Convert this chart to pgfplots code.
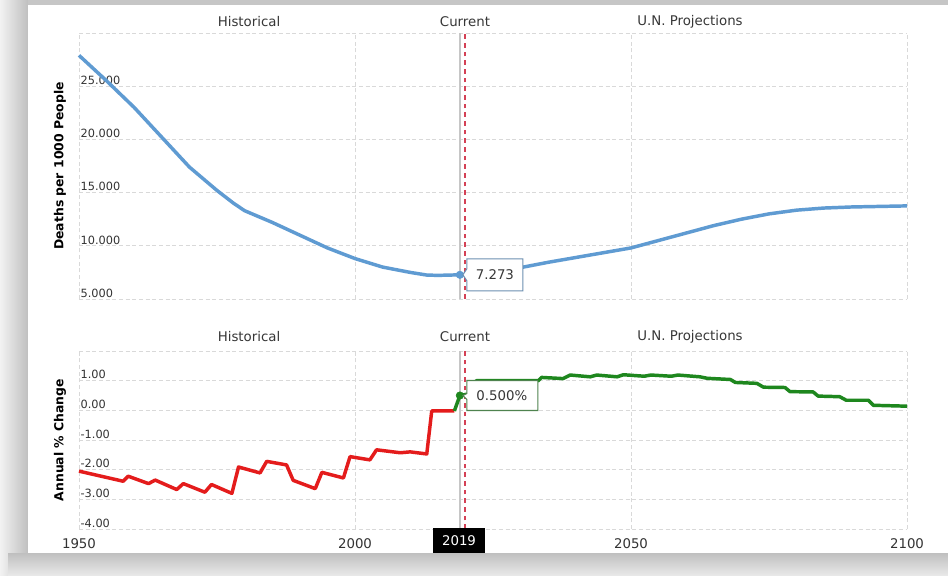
\documentclass[border=0pt]{standalone}
\usepackage{pgfplots}
\pgfplotsset{compat=1.18}
\usepackage{fontspec}
\setmainfont{DejaVu Sans}
\definecolor{lineblue}{RGB}{95,155,210}
\definecolor{linered}{RGB}{228,28,28}
\definecolor{linegreen}{RGB}{30,135,30}
\definecolor{txt}{RGB}{55,55,55}
\definecolor{dashred}{RGB}{212,65,85}
\begin{document}
\begin{tikzpicture}[x=0.75pt,y=0.75pt]
% frame
\fill[white] (0,0) rectangle (948,575);
\shade[left color=gray!10,right color=gray!50] (0,0) rectangle (28,575);
\fill[gray!45] (28,570) rectangle (948,575);
\shade[top color=gray!50,bottom color=gray!18] (8,0) rectangle (948,22);
\fill[white] (28,22) rectangle (948,570);

\pgfplotsset{common/.style={scale only axis, width=621pt, xmin=1950, xmax=2100,
  axis line style={draw=none}, major tick length=0pt,
  xtick={1950,2000,2050,2100}, grid=major,
  grid style={gray!30, dash pattern=on 3pt off 2pt, line width=0.5pt},
  yticklabel style={anchor=south west, font=\fontsize{8.5}{10}\selectfont, text=black!80, inner sep=1pt},
  /pgf/number format/assume math mode=true, /pgf/number format/1000 sep={}, clip=false}}

% ---------- top panel ----------
\begin{axis}[common, at={(59.25pt,207pt)}, height=199.5pt, ymin=5, ymax=30,
  ytick={5,10,15,20,25,30}, yticklabels={5.000,10.000,15.000,20.000,25.000,{}},
  xticklabels={}]
\addplot[gray!45, line width=1pt] coordinates {(2019,5) (2019,30)};
\addplot[draw=dashred, solid, line width=1.4pt, dash pattern=on 3.5pt off 3pt] coordinates {(2020,5) (2020,30)};
\addplot[lineblue, line width=2.6pt, line join=round] coordinates {
(1950,27.9) (1955,25.5) (1960,23.0) (1965,20.2) (1970,17.4) (1975,15.2) (1978,14.0)
(1980,13.3) (1985,12.2) (1990,11.0) (1995,9.8) (2000,8.8) (2005,8.0) (2010,7.5)
(2013,7.25) (2015,7.22) (2019,7.273) (2020,7.3) (2025,7.6) (2030,7.95) (2035,8.45)
(2040,8.9) (2045,9.35) (2050,9.8) (2055,10.5) (2060,11.2) (2065,11.9) (2070,12.5)
(2075,13.0) (2080,13.35) (2085,13.55) (2090,13.65) (2095,13.7) (2100,13.75)};
\addplot[only marks, mark=*, mark size=2.8pt, color=lineblue] coordinates {(2019,7.273)};
\coordinate (P1) at (axis cs:2019,7.273);
\end{axis}
\draw[fill=white, draw=lineblue!60!gray, line width=0.8pt] (P1) ++(3,0) -- ++(4,6) -- ++(0,10) -- ++(56,0) -- ++(0,-32) -- ++(-56,0) -- ++(0,10) -- cycle;
\path (P1) ++(35,0) node[text=txt, font=\fontsize{10}{12}\selectfont] {7.273};

% ---------- bottom panel ----------
\begin{axis}[common, at={(59.25pt,34.5pt)}, height=133.5pt, ymin=-4, ymax=2,
  ytick={-4,-3,-2,-1,0,1,2}, yticklabels={-4.00,-3.00,-2.00,-1.00,0.00,1.00,{}},
  xticklabel style={font=\fontsize{10}{12}\selectfont, text=black!80, yshift=-3.5pt}]
\addplot[gray!45, line width=1pt] coordinates {(2019,-4) (2019,2)};
\addplot[draw=dashred, solid, line width=1.4pt, dash pattern=on 3.5pt off 3pt] coordinates {(2020,-4) (2020,2)};
\addplot[linered, line width=2.6pt, line join=round] coordinates {
(1950,-2.05) (1958,-2.39) (1958.9,-2.22) (1962.6,-2.47) (1963.8,-2.35) (1967.7,-2.67)
(1968.9,-2.47) (1972.8,-2.76) (1974,-2.5) (1977.7,-2.8) (1978.9,-1.91) (1982.8,-2.11)
(1984,-1.72) (1987.6,-1.84) (1988.8,-2.36) (1992.8,-2.64) (1994,-2.09) (1997.9,-2.28)
(1999.1,-1.56) (2002.7,-1.67) (2003.9,-1.33) (2008.2,-1.43) (2010,-1.40) (2013,-1.47)
(2013.9,-0.02) (2018,-0.02)};
\addplot[linegreen, line width=2.6pt, line join=round] coordinates {
(2018,-0.02) (2019,0.5) (2020.5,0.55) (2022,1.0) (2033.2,1.0) (2033.8,1.11) (2037.7,1.07) (2039,1.19)
(2042.6,1.13) (2043.8,1.19) (2047.5,1.13) (2048.6,1.2) (2052.4,1.15) (2053.6,1.19)
(2057.3,1.15) (2058.5,1.19) (2062.5,1.13) (2063.8,1.08) (2068,1.04) (2068.9,0.94)
(2072.8,0.91) (2074,0.78) (2077.9,0.77) (2078.8,0.63) (2083,0.62) (2083.9,0.48)
(2087.8,0.46) (2089,0.34) (2093,0.34) (2093.9,0.17) (2100,0.14)};
\addplot[only marks, mark=*, mark size=2.8pt, color=linegreen] coordinates {(2019,0.5)};
\coordinate (P2) at (axis cs:2019,0.5);
\end{axis}
\draw[fill=white, draw=linegreen!50!gray, line width=0.8pt] (P2) ++(3,0) -- ++(4,2) -- ++(0,13) -- ++(71,0) -- ++(0,-30) -- ++(-71,0) -- ++(0,11) -- cycle;
\path (P2) ++(42,0) node[text=txt, font=\fontsize{10}{12}\selectfont] {0.500\%};

% 2019 marker box
\node[fill=black, text=white, font=\fontsize{10}{12}\selectfont, minimum width=39pt, minimum height=18.75pt, inner sep=0pt] at (459,34.5) {2019};

% section titles
\foreach \yy in {553,238} {
  \node[text=txt, font=\fontsize{10}{12}\selectfont] at (249,\yy) {Historical};
  \node[text=txt, font=\fontsize{10}{12}\selectfont] at (465,\yy) {Current};
  \node[text=txt, font=\fontsize{10}{12}\selectfont] at (690,\yy) {U.N. Projections};
}
% y labels
\node[rotate=90, font=\bfseries\fontsize{9.3}{11}\selectfont] at (60,409) {Deaths per 1000 People};
\node[rotate=90, font=\bfseries\fontsize{9.3}{11}\selectfont] at (60,135) {Annual \% Change};
\end{tikzpicture}
\end{document}
